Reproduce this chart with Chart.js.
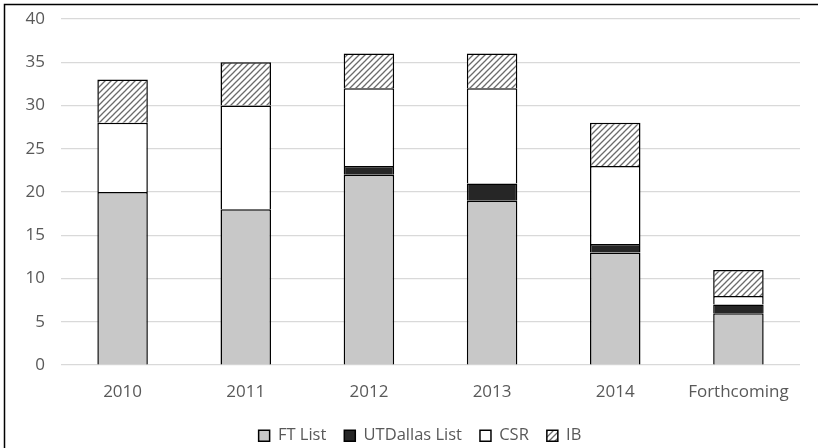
<!DOCTYPE html>
<html><head><meta charset="utf-8">
<script src="https://cdn.jsdelivr.net/npm/chart.js@4/dist/chart.umd.min.js"></script>
<style>html,body{margin:0;padding:0;background:#fff}#wrap{width:818px;height:448px;position:relative}</style>
</head><body><div id="wrap"><canvas id="c" width="818" height="448"></canvas></div>
<script>
const categories = ['2010','2011','2012','2013','2014','Forthcoming'];
const ftList = [20,18,22,19,13,6];
const utdList = [0,0,1,2,1,1];
const csr = [8,12,9,11,9,1];
const ib = [5,5,4,4,5,3];
const yTicks = [0,5,10,15,20,25,30,35,40];

const FONT = 'Open Sans';
const TXT = '#595959';
function hatch(){
  const p = document.createElement('canvas');
  p.width = 6; p.height = 6;
  const g = p.getContext('2d');
  g.fillStyle = '#fff'; g.fillRect(0,0,6,6);
  g.strokeStyle = '#6b6b6b'; g.lineWidth = 1.3;
  g.beginPath();
  g.moveTo(-1,7); g.lineTo(7,-1);
  g.moveTo(-4,4); g.lineTo(4,-4);
  g.moveTo(2,10); g.lineTo(10,2);
  g.stroke();
  return g.createPattern(p,'repeat');
}
const nz = a => a.map(v => v === 0 ? null : v);
const ctx = document.getElementById('c').getContext('2d');
const hatchPat = hatch();
const frame = {id:'frame',
  afterLayout(ch){ if(ch.legend){ ch.legend.left += 20; ch.legend.right += 20; } },
  afterDraw(ch){const c=ch.ctx;c.save();c.strokeStyle='#000';c.lineWidth=1.5;c.beginPath();c.moveTo(4.5,448);c.lineTo(4.5,4.5);c.lineTo(818,4.5);c.stroke();c.restore();}};
const common = {borderColor:'#000', borderWidth:1.5, barPercentage:0.41, categoryPercentage:1};
new Chart(ctx,{
  type:'bar',
  data:{labels:categories,datasets:[
    Object.assign({label:'FT List',data:nz(ftList),backgroundColor:'#c8c8c8'},common),
    Object.assign({label:'UTDallas List',data:nz(utdList),backgroundColor:'#262626'},common),
    Object.assign({label:'CSR',data:nz(csr),backgroundColor:'#ffffff'},common),
    Object.assign({label:'IB',data:nz(ib),backgroundColor:hatchPat},common)
  ]},
  options:{
    responsive:false, animation:false, devicePixelRatio:1,
    layout:{padding:{left:0,right:18,top:0,bottom:-6}},
    plugins:{
      legend:{position:'bottom',labels:{boxWidth:11,boxHeight:11,padding:18,color:TXT,font:{family:FONT,size:16.5},
        generateLabels(ch){return ch.data.datasets.map((d,i)=>({text:d.label,fillStyle:d.backgroundColor,strokeStyle:'#000',lineWidth:1.5,datasetIndex:i,fontColor:TXT}));}}},
      tooltip:{enabled:false}
    },
    scales:{
      x:{stacked:true,grid:{display:false},border:{display:false},ticks:{color:TXT,font:{family:FONT,size:17},padding:9},
        afterFit(ax){ax.height -= 2;}},
      y:{stacked:true,min:0,max:40,afterBuildTicks(ax){ax.ticks=yTicks.map(v=>({value:v}));},
        afterFit(ax){ax.width=61;},
        grid:{color:'#d9d9d9',lineWidth:1.3,drawTicks:false},border:{display:false},
        ticks:{color:TXT,font:{family:FONT,size:17,lineHeight:0.35},padding:16}}
    }
  },
  plugins:[frame]
});
</script></body></html>
